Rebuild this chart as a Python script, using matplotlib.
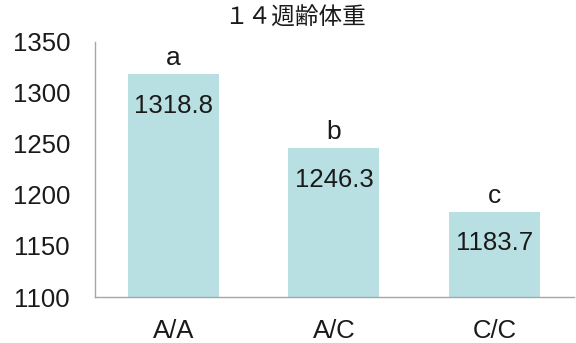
import matplotlib
matplotlib.use("Agg")
import matplotlib.pyplot as plt

genotypes = ["A/A", "A/C", "C/C"]
weights = [1318.8, 1246.3, 1183.7]
letters = ["a", "b", "c"]
yticks = [1100, 1150, 1200, 1250, 1300, 1350]
title = "１４週齢体重"

plt.rcParams["font.family"] = ["Liberation Sans", "DejaVu Sans"]

fig = plt.figure(figsize=(5.76, 3.43), dpi=100)
ax = fig.add_axes([0.165, 0.134, 0.8315, 0.744])

x = range(len(genotypes))
ax.bar(x, weights, width=0.567, color="#b8e0e3")

for xi, w, lt in zip(x, weights, letters):
    ax.annotate(f"{w:.1f}", (xi, w), xytext=(0, -28), textcoords="offset points",
                ha="center", va="baseline", fontsize=18.5, color="#1a1a1a")
    ax.annotate(lt, (xi, w), xytext=(0, 6), textcoords="offset points",
                ha="center", va="baseline", fontsize=19, color="#1a1a1a")

ax.set_ylim(1100, 1350)
ax.set_xlim(-0.489, 2.496)
ax.set_yticks(yticks)
ax.set_xticks(list(x))
ax.set_xticklabels(genotypes)
ax.tick_params(axis="both", length=0, labelsize=18.5, colors="#1a1a1a")
ax.tick_params(axis="y", pad=18)
ax.tick_params(axis="x", pad=16)

for s in ["top", "right"]:
    ax.spines[s].set_visible(False)
for s in ["left", "bottom"]:
    ax.spines[s].set_color("#a6a6a6")
    ax.spines[s].set_linewidth(1.0)

fig.text(0.512, 0.947, title, ha="center", va="center", fontsize=17,
         family=["Noto Sans CJK JP", "DejaVu Sans"], color="#1a1a1a")

fig.savefig("out.png", dpi=100)
